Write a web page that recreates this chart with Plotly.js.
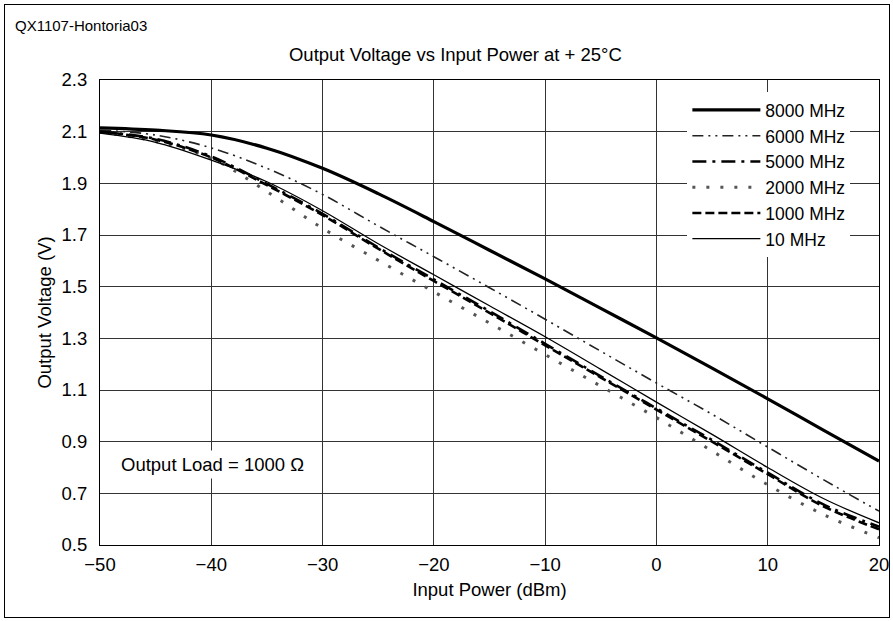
<!DOCTYPE html>
<html>
<head>
<meta charset="utf-8">
<script src="https://cdn.plot.ly/plotly-3.0.1.min.js"></script>
<style>
  html, body { margin: 0; padding: 0; background: #fff; }
  #wrap { position: relative; width: 893px; height: 621px; }
  #chart { width: 893px; height: 621px; }
  #frame { position: absolute; left: 4px; top: 4px; width: 884px; height: 612px;
           border: 1px solid #000; pointer-events: none; }
</style>
</head>
<body>
<div id="wrap"><div id="chart"></div><div id="frame"></div></div>
<script>
// Input power (dBm)
const inputPower = [-50, -45, -40, -35, -30, -25, -20, -15, -10, -5, 0, 5, 10, 15, 20];
// Output voltage (V) per frequency
const v8000 = [2.115, 2.106, 2.087, 2.036, 1.958, 1.860, 1.752, 1.641, 1.530, 1.416, 1.302, 1.185, 1.066, 0.945, 0.825];
const v6000 = [2.106, 2.087, 2.037, 1.958, 1.857, 1.735, 1.616, 1.496, 1.374, 1.250, 1.127, 1.006, 0.879, 0.753, 0.631];
const v5000 = [2.100, 2.072, 2.004, 1.898, 1.782, 1.652, 1.528, 1.405, 1.279, 1.153, 1.029, 0.906, 0.780, 0.657, 0.571];
const v2000 = [2.098, 2.062, 1.997, 1.868, 1.726, 1.602, 1.480, 1.359, 1.237, 1.115, 0.993, 0.864, 0.733, 0.618, 0.528];
const v1000 = [2.100, 2.069, 2.000, 1.893, 1.777, 1.647, 1.522, 1.399, 1.273, 1.148, 1.024, 0.900, 0.774, 0.650, 0.561];
const v10   = [2.094, 2.059, 1.990, 1.906, 1.794, 1.666, 1.546, 1.426, 1.306, 1.180, 1.053, 0.928, 0.800, 0.680, 0.586];

const seriesNames = ['8000 MHz', '6000 MHz', '5000 MHz', '2000 MHz', '1000 MHz', '10 MHz'];
const xTicks = [-50, -40, -30, -20, -10, 0, 10, 20];
const yTicks = [0.5, 0.7, 0.9, 1.1, 1.3, 1.5, 1.7, 1.9, 2.1, 2.3];

const styles = [
  {color: '#000', width: 3.2, dash: 'solid'},
  {color: '#222', width: 1.6, dash: '11px,5px,2px,5px,2px,5px'},
  {color: '#000', width: 2.6, dash: '14px,6px,3px,6px'},
  {color: '#555', width: 3, dash: '3px,11px'},
  {color: '#000', width: 2.6, dash: '9px,4px'},
  {color: '#000', width: 1.3, dash: 'solid'}
];
const yData = [v8000, v6000, v5000, v2000, v1000, v10];

const font = 'Liberation Sans, Arial, sans-serif';
const fs = 18.5;
const traces = yData.map((ys, i) => ({
  type: 'scatter', mode: 'lines', x: inputPower, y: ys, name: seriesNames[i],
  line: {color: styles[i].color, width: styles[i].width, dash: styles[i].dash, shape: 'spline', smoothing: 1}
}));

const layout = {
  width: 893, height: 621,
  margin: {l: 100, r: 14, t: 80, b: 76},
  paper_bgcolor: '#fff', plot_bgcolor: '#fff',
  font: {family: font, size: fs, color: '#000'},
  showlegend: true,
  title: {text: 'Output Voltage vs Input Power at + 25°C', font: {family: font, size: fs, color: '#000'},
          xref: 'container', yref: 'container', x: 0.51, xanchor: 'center', y: 0.913, yanchor: 'middle'},
  xaxis: {
    range: [-50, 20], tickvals: xTicks, ticktext: xTicks.map(v => v < 0 ? '\u2212' + Math.abs(v) : String(v)),
    showgrid: true, gridcolor: '#333', gridwidth: 1, zeroline: false,
    showline: true, linecolor: '#000', linewidth: 1, mirror: true, ticks: '',
    tickfont: {family: font, size: fs}, ticklabelstandoff: 3,
    title: {text: 'Input Power (dBm)', font: {family: font, size: fs}, standoff: 8}
  },
  yaxis: {
    range: [0.5, 2.3], tickvals: yTicks, ticktext: yTicks.map(v => v.toFixed(1)),
    showgrid: true, gridcolor: '#333', gridwidth: 1, zeroline: false,
    showline: true, linecolor: '#000', linewidth: 1, mirror: true, ticks: '',
    tickfont: {family: font, size: fs}, ticklabelstandoff: 8,
    title: {text: 'Output Voltage (V)', font: {family: font, size: fs}, standoff: 5}
  },
  legend: {
    x: 0.754, xanchor: 'left', y: 0.974, yanchor: 'top',
    bgcolor: '#fff', borderwidth: 0, font: {family: font, size: 17.5},
    itemwidth: 68, tracegroupgap: 0
  },
  annotations: [
    {xref: 'paper', yref: 'paper', x: -0.1117, y: 1.118, xanchor: 'left', yanchor: 'middle',
     text: 'QX1107-Hontoria03', showarrow: false, font: {family: font, size: 15}},
    {xref: 'x', yref: 'y', x: -48.5, y: 0.81, xanchor: 'left', yanchor: 'middle',
     text: 'Output Load = 1000 \u03A9', showarrow: false, bgcolor: '#fff', borderpad: 3,
     font: {family: font, size: fs}}
  ]
};

Plotly.newPlot('chart', traces, layout, {displayModeBar: false, staticPlot: true});
</script>
</body>
</html>
